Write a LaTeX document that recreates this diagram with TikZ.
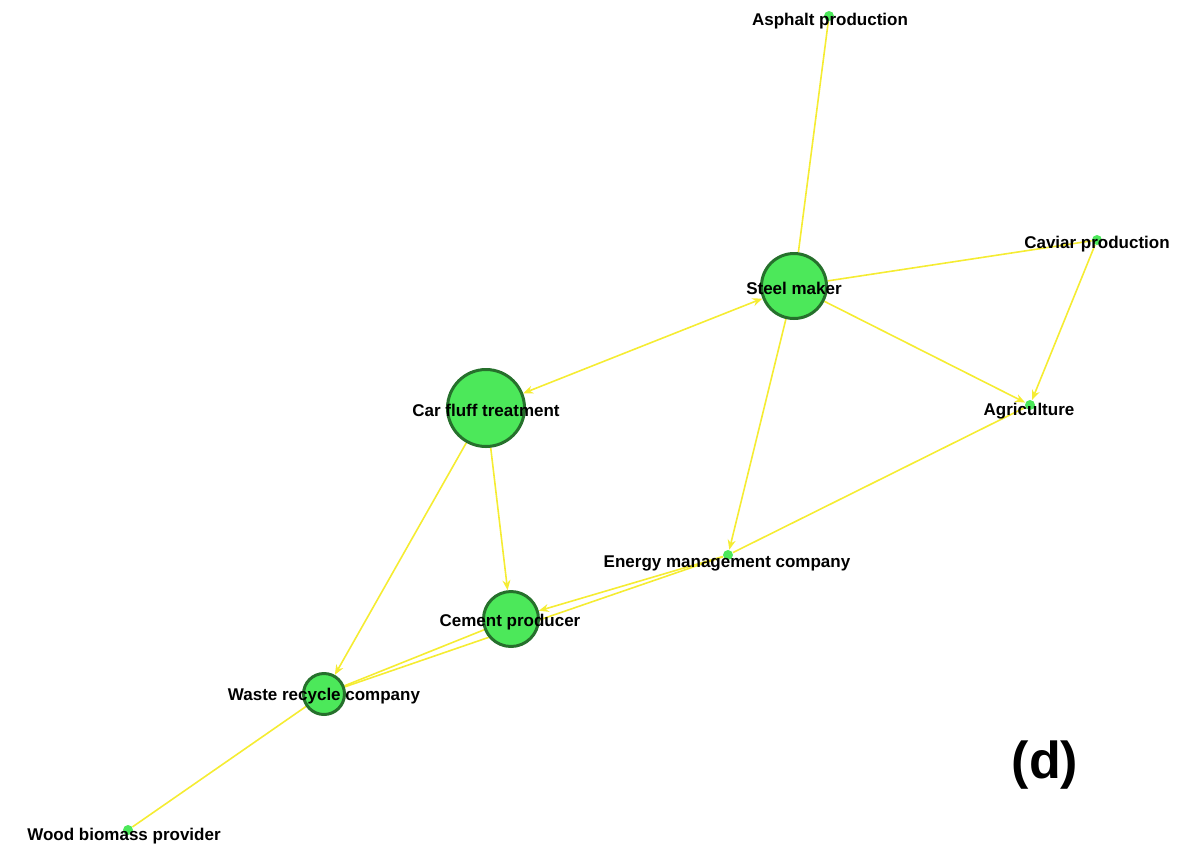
\documentclass[tikz,border=0pt]{standalone}
\usepackage{fontspec}
\setmainfont{Liberation Sans}
\usetikzlibrary{arrows.meta,backgrounds}

\definecolor{nodegreen}{RGB}{76,232,90}
\definecolor{rimgreen}{RGB}{38,112,44}
\definecolor{linkyellow}{RGB}{245,236,50}

\begin{document}
\begin{tikzpicture}[x=0.5pt, y=-0.5pt, >={Stealth[length=5pt,width=4pt]}]
		\tikzstyle{every node}=[font=\fontsize{8.5}{10}\selectfont\bfseries, text=black]
		\tikzstyle{hub}=[circle, fill=nodegreen, draw=rimgreen, line width=1.5pt, inner sep=0pt]
		\tikzstyle{leaf}=[circle, fill=nodegreen, inner sep=0pt, minimum size=5pt]
		\tikzstyle{link}=[draw=linkyellow, line width=0.8pt]
		\useasboundingbox (0,0) rectangle (1182,847);
		% the actors
		\node[leaf]                         (asphalt) at (829,16)  {};
		\node[hub, minimum size=32.5pt]     (steel)   at (794,286) {};
		\node[leaf]                         (caviar)  at (1097,240) {};
		\node[leaf]                         (agri)    at (1030,405) {};
		\node[hub, minimum size=38.5pt]     (fluff)   at (486,408) {};
		\node[leaf]                         (energy)  at (728,555) {};
		\node[hub, minimum size=27.5pt]     (cement)  at (511,619) {};
		\node[hub, minimum size=20.5pt]     (waste)   at (324,694) {};
		\node[leaf]                         (wood)    at (128,830) {};
		% names on top
		\node (asphalt-l) at (830,21)  {Asphalt production};
		\node (steel-l)   at (794,288) {Steel maker};
		\node (caviar-l)  at (1097,244) {Caviar production};
		\node (agri-l)    at (1029,411) {Agriculture};
		\node (fluff-l)   at (486,410) {Car fluff treatment};
		\node (energy-l)  at (727,563) {Energy management company};
		\node (cement-l)  at (510,622) {Cement producer};
		\node (waste-l)   at (324,696) {Waste recycle company};
		\node (wood-l)    at (124,836) {Wood biomass provider};
		\node[font=\fontsize{26}{30}\selectfont\bfseries] (tag) at (1045,765) {(d)};
		% flows
		\begin{scope}[on background layer]
		\path[link]
		(asphalt) edge (steel)
		(steel) edge (caviar)
		(steel) edge[->] (agri)
		(caviar) edge[->] (agri)
		(steel) edge[<->] (fluff)
		(steel) edge[->] (energy)
		(agri) edge (energy)
		(fluff) edge[->] (cement)
		(fluff) edge[->] (waste)
		(energy) edge[->] (cement)
		(energy) edge (waste)
		(cement) edge (waste)
		(waste) edge (wood);
		\end{scope}
	\end{tikzpicture}
\end{document}
